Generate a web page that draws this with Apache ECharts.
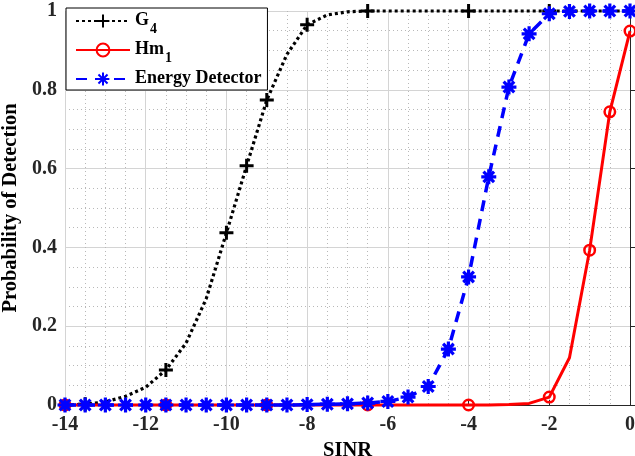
<!DOCTYPE html>
<html>
<head>
<meta charset="utf-8">
<script src="https://cdn.jsdelivr.net/npm/echarts@6/dist/echarts.min.js"></script>
<style>
  html, body { margin: 0; padding: 0; background: #fff; }
  #chart { width: 635px; height: 456px; }
</style>
</head>
<body>
<div id="chart"></div>
<script>
// SINR grid (dB), sampled every 0.5 dB
const sinr = [-14, -13.5, -13, -12.5, -12, -11.5, -11, -10.5, -10, -9.5, -9, -8.5, -8, -7.5,
              -7, -6.5, -6, -5.5, -5, -4.5, -4, -3.5, -3, -2.5, -2, -1.5, -1, -0.5, 0];

// Probability of detection for each detector
const pdG4 = [0, 0.002, 0.008, 0.022, 0.045, 0.089, 0.157, 0.27, 0.437, 0.607, 0.774, 0.89, 0.965, 0.99,
              0.998, 1, 1, 1, 1, 1, 1, 1, 1, 1, 1, 1, 1, 1, 1];
const pdHm1 = [0, 0, 0, 0, 0, 0, 0, 0, 0, 0, 0, 0, 0, 0,
               0, 0, 0, 0, 0, 0, 0, 0, 0.001, 0.004, 0.02, 0.12, 0.393, 0.744, 0.949];
const pdEnergy = [0, 0, 0, 0, 0, 0, 0, 0, 0, 0, 0, 0, 0.001, 0.002,
                  0.003, 0.005, 0.009, 0.02, 0.047, 0.142, 0.325, 0.579, 0.807, 0.942, 0.993, 0.999, 1, 1, 1];

// SINR values where markers are drawn (the energy detector marks every sample)
const g4MarkerAt = [-13.5, -11.5, -10, -9.5, -9, -8, -6.5, -4, -2];
const hm1MarkerAt = [-14, -11.5, -9, -6.5, -4, -2, -1, -0.5, 0];

const xTicks = { min: -14, max: 0, step: 2 };
const yTicks = { min: 0, max: 1, step: 0.2 };

const FONT = 'Liberation Serif';
const PLUS = 'path://M0 -10 L0 10 M-10 0 L10 0';
const ASTERISK = 'path://M0 -10 L0 10 M-10 0 L10 0 M-7.07 -7.07 L7.07 7.07 M-7.07 7.07 L7.07 -7.07';

function withMarkers(values, markerAt) {
  return sinr.map((x, i) => {
    const item = { value: [x, values[i]] };
    if (markerAt && markerAt.indexOf(x) < 0) item.symbol = 'none';
    return item;
  });
}

const chart = echarts.init(document.getElementById('chart'), null, { renderer: 'canvas' });

chart.setOption({
  animation: false,
  backgroundColor: '#fff',
  textStyle: { fontFamily: FONT, fontWeight: 'bold', color: '#000' },
  grid: { left: 65, right: 5, top: 11, bottom: 51, containLabel: false, outerBoundsMode: 'none' },
  legend: {
    orient: 'vertical',
    left: 66,
    top: 8,
    padding: [3, 6, 3, 9],
    itemGap: 4,
    itemWidth: 54,
    itemHeight: 16,
    backgroundColor: '#fff',
    borderColor: '#000',
    borderWidth: 1,
    borderRadius: 0,
    data: ['G4', 'Hm1', 'Energy Detector'],
    formatter: function (name) {
      if (name === 'G4') return '{main|G}{sub|4}';
      if (name === 'Hm1') return '{main|Hm}{sub|1}';
      return '{main|' + name + '}';
    },
    textStyle: {
      fontFamily: FONT,
      fontWeight: 'bold',
      fontSize: 18,
      color: '#000',
      rich: {
        main: { fontFamily: FONT, fontWeight: 'bold', fontSize: 18, lineHeight: 20, verticalAlign: 'top', color: '#000' },
        sub: { fontFamily: FONT, fontWeight: 'bold', fontSize: 14, lineHeight: 14, padding: [11, 0, 0, 1], verticalAlign: 'top', color: '#000' }
      }
    }
  },
  xAxis: {
    type: 'value',
    min: xTicks.min,
    max: xTicks.max,
    interval: xTicks.step,
    name: 'SINR',
    nameLocation: 'middle',
    nameGap: 28,
    nameTextStyle: { fontFamily: FONT, fontWeight: 'bold', fontSize: 20.5, color: '#000' },
    axisLine: { onZero: false, lineStyle: { color: '#262626', width: 1 } },
    axisTick: { inside: true, length: 5, lineStyle: { color: '#262626' } },
    axisLabel: { fontFamily: FONT, fontWeight: 'bold', fontSize: 20, color: '#262626', margin: 10 },
    splitLine: { show: true, lineStyle: { color: '#d4d4d4', width: 1 } },
    minorTick: { show: false, splitNumber: 4 },
    minorSplitLine: { show: true, lineStyle: { color: '#b8b8b8', width: 1, type: [1, 3] } }
  },
  yAxis: {
    type: 'value',
    min: yTicks.min,
    max: yTicks.max,
    interval: yTicks.step,
    name: 'Probability of Detection',
    nameLocation: 'middle',
    nameGap: 40,
    nameTextStyle: { fontFamily: FONT, fontWeight: 'bold', fontSize: 20.5, color: '#000' },
    axisLine: { show: true, lineStyle: { color: '#262626', width: 1 } },
    axisTick: { show: true, inside: true, length: 5, lineStyle: { color: '#262626' } },
    axisLabel: { fontFamily: FONT, fontWeight: 'bold', fontSize: 20, color: '#262626', margin: 8 },
    splitLine: { show: true, lineStyle: { color: '#d4d4d4', width: 1 } },
    minorTick: { show: false, splitNumber: 4 },
    minorSplitLine: { show: true, lineStyle: { color: '#b8b8b8', width: 1, type: [1, 3] } }
  },
  series: [
    {
      name: 'G4',
      type: 'line',
      clip: false,
      data: withMarkers(pdG4, g4MarkerAt),
      symbol: PLUS,
      symbolSize: 14,
      showAllSymbol: true,
      lineStyle: { color: '#000', width: 3.2, type: [3, 3] },
      itemStyle: { color: '#000', borderColor: '#000', borderWidth: 3 },
      z: 2
    },
    {
      name: 'Hm1',
      type: 'line',
      clip: false,
      data: withMarkers(pdHm1, hm1MarkerAt),
      symbol: 'circle',
      symbolSize: 10.5,
      showAllSymbol: true,
      lineStyle: { color: '#ff0000', width: 3 },
      itemStyle: { color: 'rgba(255,255,255,0)', borderColor: '#ff0000', borderWidth: 2.5 },
      z: 3
    },
    {
      name: 'Energy Detector',
      type: 'line',
      clip: false,
      data: withMarkers(pdEnergy, null),
      symbol: ASTERISK,
      symbolSize: 15,
      showAllSymbol: true,
      lineStyle: { color: '#0000ff', width: 3.5, type: [11, 8] },
      itemStyle: { color: '#0000ff', borderColor: '#0000ff', borderWidth: 3.2 },
      z: 4
    }
  ]
});
</script>
</body>
</html>
